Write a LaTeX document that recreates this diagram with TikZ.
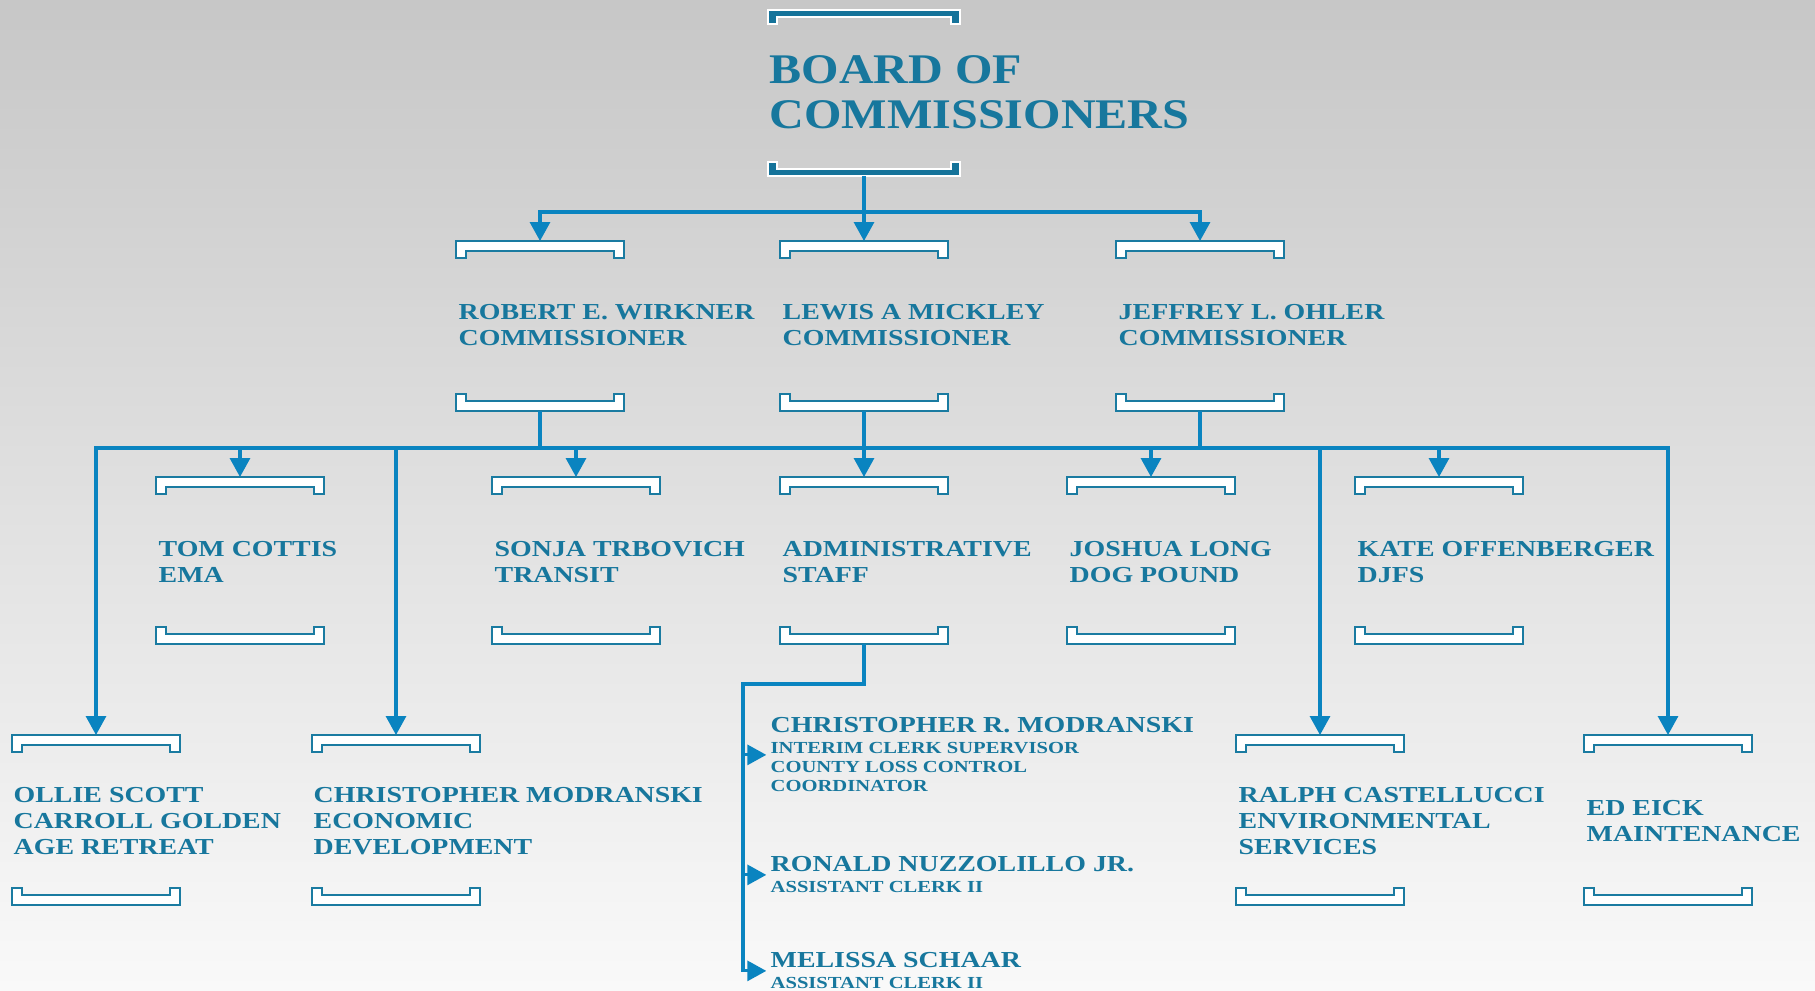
\documentclass[tikz,border=0pt]{standalone}
\usepackage{fontspec}
\newfontfamily\orgfont{Liberation Serif}[FakeStretch=1.22]
\newfontfamily\titlefont{Liberation Serif}[FakeStretch=1.14]
\usetikzlibrary{arrows.meta,fit}
\definecolor{orgtext}{HTML}{17779D}
\definecolor{orgline}{HTML}{0A84C0}
\definecolor{orgbox}{HTML}{1A7BA1}
\definecolor{orgtop}{HTML}{15739A}
\definecolor{bgtop}{HTML}{C7C7C7}
\definecolor{bgbot}{HTML}{F9F9F9}
\begin{document}
\begin{tikzpicture}[x=0.01cm,y=-0.01cm,
    link/.style={draw=orgline,line width=0.032cm},
    arrow/.style={link,-{Triangle[length=0.19cm,width=0.2cm]}},
    bracket/.style={draw=orgbox,fill=white,line width=0.024cm},
    topbracket/.style={draw=white,fill=orgtop,line width=0.02cm},
    person/.style={anchor=north west,inner sep=0,text=orgtext,align=left,font=\orgfont\bfseries\fontsize{6.5}{7.4}\selectfont},
    role/.style={person,font=\orgfont\bfseries\fontsize{4.8}{5.4}\selectfont},
    title/.style={person,font=\titlefont\bfseries\fontsize{12}{12.8}\selectfont}]
    \useasboundingbox (0,0) rectangle (1815,990);
    \shade[top color=bgtop,bottom color=bgbot] (0,0) rectangle (1815,990);

    \draw[topbracket] (768,10) -- (960,10) -- (960,24) -- (951,24) -- (951,17) -- (777,17) -- (777,24) -- (768,24) -- cycle;
    \draw[topbracket] (768,176) -- (960,176) -- (960,162) -- (951,162) -- (951,169) -- (777,169) -- (777,162) -- (768,162) -- cycle;
    \coordinate (board-b) at (864,176);
    \node[title] (board) at (769,55) {BOARD OF\\COMMISSIONERS};

    \foreach \n/\x/\ya/\yb in {wirk/456/241/411,mick/780/241/411,ohler/1116/241/411,
        tom/156/477/644,sonja/492/477/644,admin/780/477/644,joshua/1067/477/644,kate/1355/477/644,
        ollie/12/735/905,chrism/312/735/905,ralph/1236/735/905,ed/1584/735/905}{
        \draw[bracket] (\x,\ya) -- ++(168,0) -- ++(0,17) -- ++(-10,0) -- ++(0,-7) -- ++(-148,0) -- ++(0,7) -- ++(-10,0) -- cycle;
        \draw[bracket] (\x,\yb) -- ++(168,0) -- ++(0,-17) -- ++(-10,0) -- ++(0,7) -- ++(-148,0) -- ++(0,-7) -- ++(-10,0) -- cycle;
        \coordinate (\n-t) at (\x+84,\ya);
        \coordinate (\n-b) at (\x+84,\yb);
    }

    \node[person] (wirk) at (458,304) {ROBERT E. WIRKNER\\COMMISSIONER};
    \node[person] (mick) at (782,304) {LEWIS A MICKLEY\\COMMISSIONER};
    \node[person] (ohler) at (1118,304) {JEFFREY L. OHLER\\COMMISSIONER};

    \node[person] (tom) at (158,541) {TOM COTTIS\\EMA};
    \node[person] (sonja) at (494,541) {SONJA TRBOVICH\\TRANSIT};
    \node[person] (admin) at (782,541) {ADMINISTRATIVE\\STAFF};
    \node[person] (joshua) at (1069,541) {JOSHUA LONG\\DOG POUND};
    \node[person] (kate) at (1357,541) {KATE OFFENBERGER\\DJFS};

    \node[person] (ollie) at (13,787) {OLLIE SCOTT\\CARROLL GOLDEN\\AGE RETREAT};
    \node[person] (chrism) at (313,787) {CHRISTOPHER MODRANSKI\\ECONOMIC\\DEVELOPMENT};
    \node[person] (ralph) at (1238,787) {RALPH CASTELLUCCI\\ENVIRONMENTAL\\SERVICES};
    \node[person] (ed) at (1586,800) {ED EICK\\MAINTENANCE};

    \node[person] (cmod-n) at (770,717) {CHRISTOPHER R. MODRANSKI};
    \node[role] (cmod-r) at (770,742) {INTERIM CLERK SUPERVISOR\\COUNTY LOSS CONTROL\\COORDINATOR};
    \node[fit=(cmod-n)(cmod-r),inner sep=0] (cmod) {};
    \node[person] (ron-n) at (770,856) {RONALD NUZZOLILLO JR.};
    \node[role] (ron-r) at (770,881) {ASSISTANT CLERK II};
    \node[fit=(ron-n)(ron-r),inner sep=0] (ron) {};
    \node[person] (mel-n) at (770,952) {MELISSA SCHAAR};
    \node[role] (mel-r) at (770,977) {ASSISTANT CLERK II};
    \node[fit=(mel-n)(mel-r),inner sep=0] (mel) {};

    \coordinate (bus1) at (864,212);
    \draw[arrow] (board-b) -- (mick-t);
    \draw[arrow] (bus1) -| (wirk-t);
    \draw[arrow] (bus1) -| (ohler-t);

    \coordinate (bus2) at (864,448);
    \draw[link] (wirk-b) -- (wirk-b |- bus2);
    \draw[link] (ohler-b) -- (ohler-b |- bus2);
    \draw[arrow] (mick-b) -- (admin-t);
    \draw[arrow] (bus2) -| (ollie-t);
    \draw[arrow] (bus2) -| (ed-t);
    \foreach \n in {tom,chrism,sonja,joshua,ralph,kate}
        \draw[arrow] (\n-t |- bus2) -- (\n-t);

    \coordinate (spine) at (743,684);
    \draw[arrow,shorten >=0.03cm] (admin-b) |- (spine) |- (mel.west);
    \draw[arrow,shorten >=0.03cm] (spine |- cmod.west) -- (cmod.west);
    \draw[arrow,shorten >=0.03cm] (spine |- ron.west) -- (ron.west);
\end{tikzpicture}
\end{document}
